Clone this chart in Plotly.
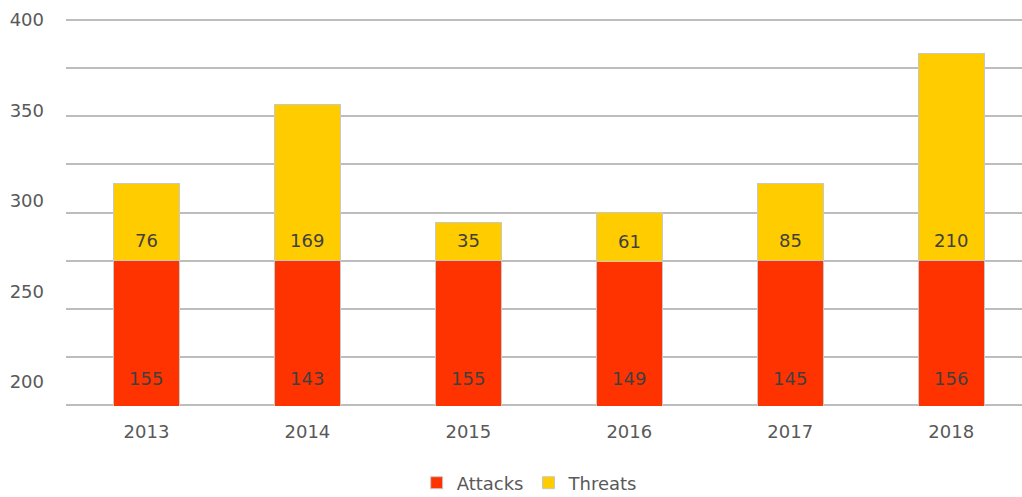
import plotly.graph_objects as go

# ---- data ----
years = ["2013", "2014", "2015", "2016", "2017", "2018"]
attacks_labels = [155, 143, 155, 149, 145, 156]
threats_labels = [76, 169, 35, 61, 85, 210]
# visible bar extents as drawn in the reference (axis units)
attacks_drawn = [275, 275, 275, 274.5, 275, 275]
threats_drawn = [40, 81, 20, 25.5, 40, 108]
y_ticks = [200, 250, 300, 350, 400]

FONT = "DejaVu Sans"
AXIS_TXT = "#595959"
LABEL_TXT = "#404040"
GRID = "#bdbdbd"
Y_MIN = 200

fig = go.Figure()
fig.add_trace(go.Bar(
    x=years, y=attacks_drawn, name="Attacks",
    marker=dict(color="#ff3300", line=dict(color="#c8c8c8", width=1)),
    textposition="none", hoverinfo="skip",
))
fig.add_trace(go.Bar(
    x=years, y=threats_drawn, name="Threats",
    marker=dict(color="#ffcc00", line=dict(color="#c8c8c8", width=1)),
    textposition="none", hoverinfo="skip",
))
# invisible trace to carry the label axis
fig.add_trace(go.Scatter(x=[years[0]], y=[None], yaxis="y2",
                         showlegend=False, hoverinfo="skip", mode="markers"))

annotations = []
for i, (a_lab, t_lab, a_top) in enumerate(zip(attacks_labels, threats_labels, attacks_drawn)):
    annotations.append(dict(x=i, y=Y_MIN, xref="x", yref="y", text=str(a_lab),
                            showarrow=False, yanchor="middle", yshift=26,
                            font=dict(family=FONT, size=18, color=LABEL_TXT)))
    annotations.append(dict(x=i, y=a_top, xref="x", yref="y", text=str(t_lab),
                            showarrow=False, yanchor="middle", yshift=20,
                            font=dict(family=FONT, size=18, color=LABEL_TXT)))

fig.update_layout(
    width=1022, height=497,
    margin=dict(l=66, r=0, t=19, b=91, autoexpand=False),
    paper_bgcolor="white", plot_bgcolor="white",
    barmode="stack", bargap=0.59,
    font=dict(family=FONT, size=18, color=AXIS_TXT),
    showlegend=True,
    legend=dict(orientation="h", x=0.485, xanchor="center", y=-0.199,
                yanchor="middle", font=dict(family=FONT, size=18, color=AXIS_TXT),
                itemwidth=30, traceorder="normal"),
    annotations=annotations,
    xaxis=dict(type="category", range=[-0.5, 5.44], showgrid=False, zeroline=False,
               showline=False, ticks="", ticklabelstandoff=13, automargin=False,
               tickfont=dict(family=FONT, size=18, color=AXIS_TXT)),
    yaxis=dict(range=[199.3, 400.7], dtick=50, tick0=200, showgrid=True, gridcolor=GRID,
               gridwidth=1.5, zeroline=False, showline=False, automargin=False,
               showticklabels=False, ticks="",
               minor=dict(dtick=25, tick0=200, showgrid=True, gridcolor=GRID, gridwidth=1.5)),
    yaxis2=dict(overlaying="y", side="left", range=[186.74, 400.55],
                tickvals=y_ticks, showgrid=False, zeroline=False, automargin=False,
                showline=False, ticks="", ticklabelstandoff=21,
                tickfont=dict(family=FONT, size=18, color=AXIS_TXT)),
)

fig.write_html("out.html", config={"displayModeBar": False},
               post_script="document.body.style.margin='0';")
